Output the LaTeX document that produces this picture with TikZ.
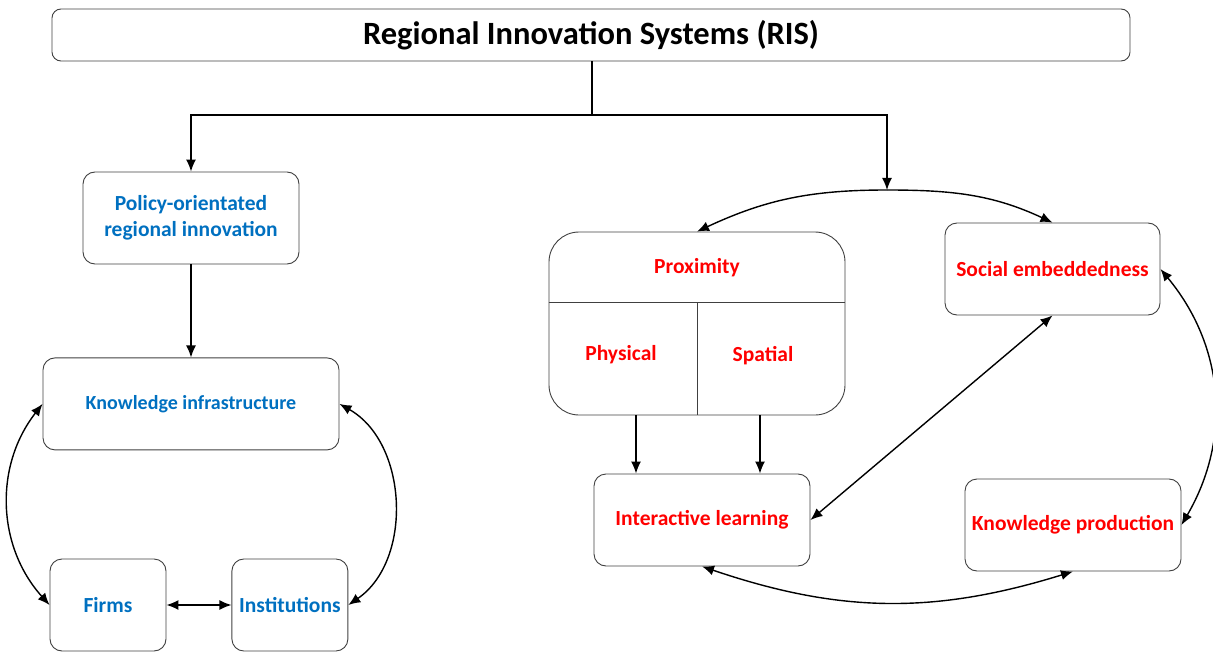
\documentclass[tikz,border=0pt]{standalone}
\usepackage{fontspec}
\setmainfont{Carlito}
\usetikzlibrary{arrows.meta,positioning}
\definecolor{risblue}{RGB}{0,112,192}
\definecolor{risred}{RGB}{255,0,0}

\begin{document}
\begin{tikzpicture}
  [
  x=1pt,y=-1pt,
  box/.style={rectangle,rounded corners=12pt,draw=black!75,line width=0.9pt,align=center,inner sep=0pt,
    minimum width=216pt,minimum height=92pt,font=\bfseries\fontsize{21.5}{26}\selectfont},
  policy/.style={box,text=risblue},
  factor/.style={box,text=risred},
  label/.style={text=risred,font=\bfseries\fontsize{21.5}{26}\selectfont},
  link/.style={->,>={Latex[length=12pt,width=10pt]},line width=1.4pt},
  both/.style={<->,>={Latex[length=12pt,width=10pt]},line width=1.4pt}
  ]
  \useasboundingbox (0,0) rectangle (1213,655);
  % top
  \node[box,minimum width=1078pt,minimum height=52pt,rounded corners=9pt,
    font=\bfseries\fontsize{32.5}{36}\selectfont] (ris) at (591,35) {Regional Innovation Systems (RIS)};
  % left branch
  \node[policy] (policy) at (191,218) {Policy-orientated\\regional innovation};
  \node[policy,minimum width=296pt,font=\bfseries\fontsize{20}{26}\selectfont] (infra) [below = 93pt of policy] {Knowledge infrastructure};
  \node[policy,minimum width=116pt] (firms) at (108,605) {Firms};
  \node[policy,minimum width=116pt] (institutions) [right = 65pt of firms] {Institutions};
  % right branch
  \node[factor,minimum width=296pt,minimum height=183pt,rounded corners=30pt] (prox) at (697,323.5) {};
  \node[label] (proximity) at (697,268) {Proximity};
  \node[label] (physical) at (621,355) {Physical};
  \node[label] (spatial) at (763,356) {Spatial};
  \draw[draw=black!75,line width=0.9pt] (prox.west |- 0,302) -- (prox.east |- 0,302);
  \draw[draw=black!75,line width=0.9pt] (697,302) -- (prox.south);
  \node[factor,minimum width=215pt] (social) at (1052.5,269) {Social embeddedness};
  \node[factor] (interactive) at (702,520) {Interactive learning};
  \node[factor] (production) at (1073,525) {Knowledge production};

  \coordinate (split) at (592,115);
  \coordinate (fork) at (887,190);
  \coordinate (phys out) at (636,415);
  \coordinate (spat out) at (760,415);

  \draw[line width=1.4pt] (ris.south -| split) -- (split);
  \draw[link] (split) -| (policy.north);
  \draw[link] (split) -| (fork);
  \draw[link] (fork) to[out=180,in=25] (prox.north);
  \draw[link] (fork) to[out=0,in=155] (social.north);
  \draw[link] (policy) -- (infra);
  \draw[both] (infra.west) to[bend right=40] (firms.west);
  \draw[both] (infra.east) to[bend left=58] (institutions.east);
  \draw[both] (firms) -- (institutions);
  \draw[link] (phys out) -- (phys out |- interactive.north);
  \draw[link] (spat out) -- (spat out |- interactive.north);
  \draw[both] (social.south) -- (interactive.east);
  \draw[both] (social.east) to[bend left=35] (production.east);
  \draw[both] (interactive.south) to[bend right=18] (production.south);
\end{tikzpicture}
\end{document}
